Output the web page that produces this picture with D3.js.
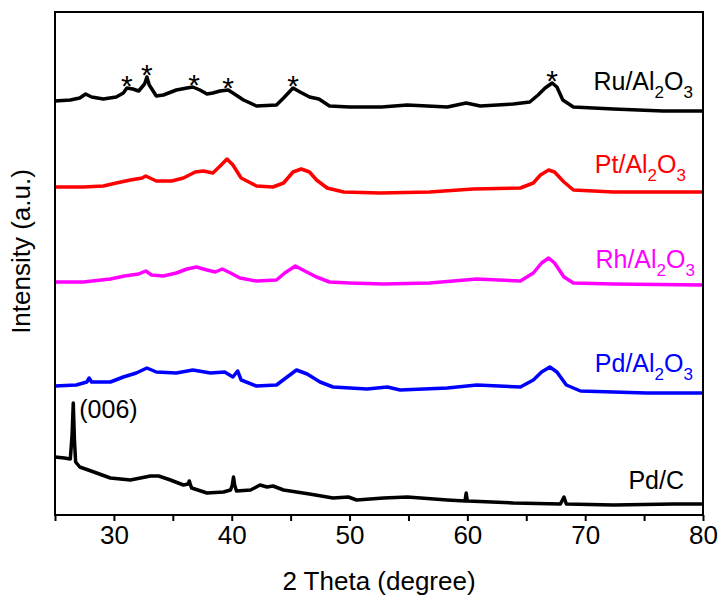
<!DOCTYPE html>
<html>
<head>
<meta charset="utf-8">
<script src="https://cdn.jsdelivr.net/npm/d3@7"></script>
<style>
  body { margin: 0; background: #fff; }
  text { font-family: "Liberation Sans", Arial, sans-serif; }
</style>
</head>
<body>
<div id="chart"></div>
<script>
// XRD patterns, intensity in a.u. (stacked offsets already included)
const ru = [[25,414],[26.3,415],[27.1,417],[27.6,421],[28.1,418],[29.1,416],[30.2,418],[30.8,422],[31.1,427],[31.6,426],[32.1,424],[32.6,431],[32.8,438],[33.0,430],[33.6,419],[34.2,420],[35.3,425],[36.2,427],[36.7,428],[37.3,425],[37.9,421],[38.4,422],[39.0,424],[39.7,425],[40.1,422],[41.0,415],[42.1,409],[43.8,410],[44.4,417],[45.2,427],[45.8,423],[46.6,418],[47.4,416],[48.3,409],[50.0,408],[52.7,408],[54.9,410],[58.3,408],[59.9,412],[61.1,409],[63.9,411],[65.3,413],[66.0,420],[66.6,427],[67.2,432],[67.6,428],[68.1,415],[69.0,408],[72.4,406],[76.6,404],[80,404]];
const pt = [[25,328],[27.4,328],[29.1,329],[30.2,332],[31.4,335],[32.4,337],[32.7,339],[33.6,334],[34.9,334],[35.9,337],[36.9,343],[37.6,344],[38.4,342],[39.1,350],[39.6,356],[40.1,350],[40.8,337],[42.1,329],[43.5,328],[44.4,332],[45.2,343],[45.9,346],[46.6,343],[47.2,335],[48.1,327],[49.5,323],[52.6,322],[56.8,323],[60.5,326],[64.5,327],[65.6,332],[66.2,340],[66.9,345],[67.4,343],[68.2,333],[69.0,325],[72.4,323],[80,323]];
const rh = [[25,233],[27.4,233],[29.7,236],[30.9,239],[32.1,241],[32.7,244],[33.2,240],[34.2,239],[35.3,242],[36.2,246],[37.0,248],[37.9,245],[38.6,243],[39.2,246],[39.9,242],[40.7,237],[42.1,234],[43.8,235],[44.5,242],[45.4,249],[46.2,244],[47.2,238],[48.3,233],[50.0,232],[52.9,231],[56.8,232],[60.8,236],[64.5,234],[65.6,242],[66.3,252],[66.9,257],[67.4,252],[68.2,238],[69.0,232],[72.4,231],[80,230]];
const pd = [[25,129],[26.8,130],[27.7,133],[27.9,137],[28.1,133],[29.7,133],[30.8,138],[31.9,142],[32.8,147],[33.6,143],[35.3,142],[36.7,145],[38.2,142],[39.4,143],[40.1,138],[40.5,144],[40.8,135],[42.1,129],[43.8,130],[44.7,138],[45.5,145],[46.4,141],[47.5,133],[48.6,128],[51.5,126],[53.2,128],[54.3,125],[58.3,127],[60.8,130],[64.5,128],[65.6,135],[66.3,143],[67.0,148],[67.6,143],[68.4,130],[69.6,124],[75.2,122],[80,122]];
const pdc = [[25,58],[25.8,57],[26.3,56],[26.45,80],[26.55,112],[26.65,75],[26.75,53],[27.1,48],[28.3,43],[29.7,37],[31.4,35],[33.1,39],[33.8,39],[34.8,35],[35.9,30],[36.3,31],[36.4,34],[36.5,30],[36.6,27],[37.9,22],[39.3,23],[39.9,25],[40.05,30],[40.15,38],[40.25,30],[40.4,24],[41.6,25],[42.4,30],[43.0,28],[43.5,29],[44.4,25],[46.6,21],[48.6,17],[49.9,18],[50.6,15],[52.9,17],[54.9,18],[58.3,15],[59.8,14],[59.9,22],[60.0,14],[63.9,12],[67.9,11],[68.2,18],[68.4,11],[72.4,10],[77.5,11],[80,11]];

const seriesNames = ["Ru", "Pt", "Rh", "Pd", "Pd/C"];
const seriesColors = ["#000000", "#ff0000", "#ff00ff", "#0000ff", "#000000"];
const starPeaks = [31.1, 32.8, 36.8, 39.7, 45.2, 67.2]; // marked with * on Ru
const xTicks = [25, 30, 35, 40, 45, 50, 55, 60, 65, 70, 75, 80];
const xLabels = [30, 40, 50, 60, 70, 80];

const width = 720, height = 598;
const margin = {top: 12, right: 17, bottom: 83, left: 55};
const w = width - margin.left - margin.right;
const h = height - margin.top - margin.bottom;

let svg = d3.select("#chart").append("svg")
    .attr("width", width)
    .attr("height", height)
    .append("g")
    .attr("transform", `translate(${margin.left}, ${margin.top})`);

let x = d3.scaleLinear().domain([25, 80]).range([0, w]);
let y = d3.scaleLinear().domain([0, 503]).range([h, 0]);

let line = d3.line()
    .x(d => x(d[0]))
    .y(d => y(d[1]));

let all = [ru, pt, rh, pd, pdc];
svg.selectAll("path.trace")
    .data(all)
    .enter()
    .append("path")
    .attr("class", "trace")
    .attr("d", line)
    .attr("fill", "none")
    .attr("stroke", (d, i) => seriesColors[i])
    .attr("stroke-width", 3.5)
    .attr("stroke-linejoin", "round");

// frame
svg.append("rect")
    .attr("width", w).attr("height", h)
    .attr("fill", "none").attr("stroke", "#000").attr("stroke-width", 2);

// x axis
let xAxis = svg.append("g")
    .attr("transform", `translate(0, ${h})`)
    .call(d3.axisBottom(x).tickValues(xTicks).tickSize(6).tickPadding(5)
        .tickFormat(d => xLabels.includes(d) ? d : ""));
xAxis.select(".domain").remove();
xAxis.selectAll("line").attr("stroke-width", 2);
xAxis.selectAll("text")
    .style("font-size", "26px")
    .style("font-family", "Liberation Sans, Arial, sans-serif")
    .attr("fill", "#000");

// axis titles
svg.append("text")
    .attr("x", w / 2).attr("y", h + 75)
    .style("text-anchor", "middle")
    .style("font-size", "26px")
    .text("2 Theta (degree)");

svg.append("text")
    .attr("transform", `translate(-25, ${h / 2 - 12}) rotate(-90)`)
    .style("text-anchor", "middle")
    .style("font-size", "26px")
    .text("Intensity (a.u.)");

// series labels
const labelY = [90, 173, 268, 372, 489];
const labelX = [693, 686, 695, 693, 684];
seriesNames.forEach((name, i) => {
    let t = svg.append("text")
        .attr("x", labelX[i] - margin.left)
        .attr("y", labelY[i] - margin.top)
        .attr("fill", seriesColors[i])
        .style("text-anchor", "end")
        .style("font-size", "25px");
    if (name === "Pd/C") {
        t.text("Pd/C");
    } else {
        t.append("tspan").text(name + "/Al");
        t.append("tspan").text("2").attr("dy", 8).style("font-size", "17px");
        t.append("tspan").text("O").attr("dy", -8);
        t.append("tspan").text("3").attr("dy", 8).style("font-size", "17px");
    }
});

// stars above Ru peaks
function valueAt(data, deg) {
    let best = data[0];
    data.forEach(d => { if (Math.abs(d[0] - deg) < Math.abs(best[0] - deg)) best = d; });
    return best[1];
}
svg.selectAll("text.star")
    .data(starPeaks)
    .enter()
    .append("text")
    .attr("class", "star")
    .attr("x", d => x(d))
    .attr("y", d => y(valueAt(ru, d)) + 8)
    .style("text-anchor", "middle")
    .style("font-size", "30px")
    .text("*");

// (006) reflection of graphite
svg.append("text")
    .attr("x", x(26.55) + 6)
    .attr("y", y(112) + 15)
    .style("font-size", "25px")
    .text("(006)");
</script>
</body>
</html>
